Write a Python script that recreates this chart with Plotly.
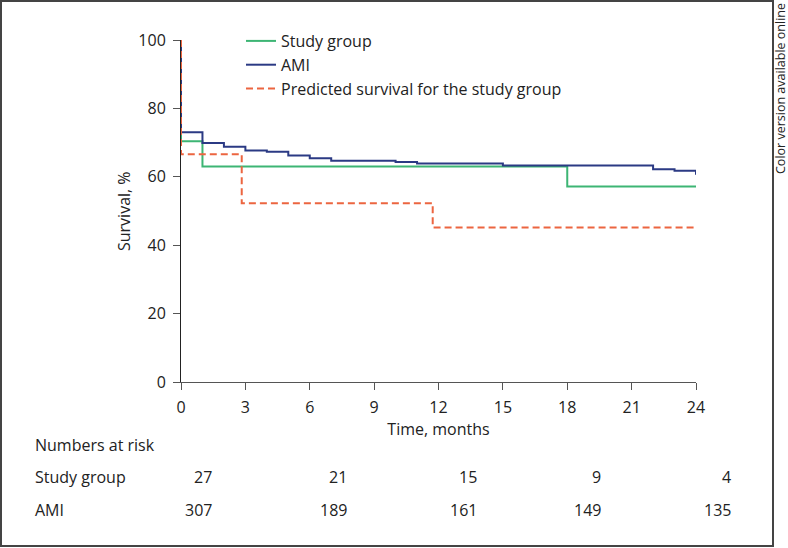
import plotly.graph_objects as go

# ---- data ----
study_t = [0, 0, 1, 18, 24]
study_s = [100, 70.4, 63.0, 57.2, 57.2]

ami_t = [0, 0, 1, 2, 3, 4, 5, 6, 7, 10, 11, 15, 22, 23, 24]
ami_s = [100, 73.0, 69.9, 68.8, 67.7, 67.3, 66.2, 65.4, 64.7, 64.3, 63.9, 63.3, 62.2, 61.8, 60.6]

pred_t = [0, 0, 2.83, 11.73, 24.2]
pred_s = [100, 66.6, 52.3, 45.2, 45.2]

x_ticks = [0, 3, 6, 9, 12, 15, 18, 21, 24]
y_ticks = [0, 20, 40, 60, 80, 100]

risk_groups = ["Study group", "AMI"]
risk_study = [27, 21, 15, 9, 4]
risk_ami = [307, 189, 161, 149, 135]

# ---- layout geometry ----
W, H = 788, 548
L, R, T, B = 181, 92, 40, 166
PW, PH = W - L - R, H - T - B
FONT = "Open Sans"
TXT = "#222222"
FS = 16


def px(xp):
    return (xp - L) / PW


def py(yp):
    return (H - B - yp) / PH


fig = go.Figure()
fig.add_trace(go.Scatter(x=study_t, y=study_s, mode="lines", line_shape="hv",
                         name="Study group", line=dict(color="#3DB574", width=2)))
fig.add_trace(go.Scatter(x=ami_t, y=ami_s, mode="lines", line_shape="hv",
                         name="AMI", line=dict(color="#2B3A84", width=2)))
fig.add_trace(go.Scatter(x=pred_t, y=pred_s, mode="lines", line_shape="hv",
                         name="Predicted survival for the study group",
                         line=dict(color="#EC6540", width=2, dash="7px,4px")))

ann = []
ann.append(dict(text="Survival, %", x=px(124), y=py(211), xref="paper", yref="paper",
                xanchor="center", yanchor="middle", textangle=-90, showarrow=False,
                font=dict(size=FS, color=TXT, family=FONT)))
ann.append(dict(text="Numbers at risk", x=px(33), y=py(445), xref="paper", yref="paper",
                xanchor="left", yanchor="middle", showarrow=False,
                font=dict(size=FS, color=TXT, family=FONT)))
row_y = [477, 510]
col_x = [214, 349, 479, 603, 733]
for g, vals, yy in zip(risk_groups, [risk_study, risk_ami], row_y):
    ann.append(dict(text=g, x=px(33), y=py(yy), xref="paper", yref="paper",
                    xanchor="left", yanchor="middle", showarrow=False,
                    font=dict(size=FS, color=TXT, family=FONT)))
    for v, xx in zip(vals, col_x):
        ann.append(dict(text=str(v), x=px(xx), y=py(yy), xref="paper", yref="paper",
                        xanchor="right", yanchor="middle", showarrow=False,
                        font=dict(size=FS, color=TXT, family=FONT)))
ann.append(dict(text="Color version available online", x=px(781), y=py(89),
                xref="paper", yref="paper", xanchor="center", yanchor="middle",
                textangle=-90, showarrow=False,
                font=dict(size=12.5, color=TXT, family=FONT)))

fig.update_layout(
    width=W, height=H,
    margin=dict(l=L, r=R, t=T, b=B, autoexpand=False),
    paper_bgcolor="white", plot_bgcolor="white",
    font=dict(family=FONT, size=FS, color=TXT),
    showlegend=True,
    legend=dict(x=px(241), y=py(24), xanchor="left", yanchor="top",
                bgcolor="rgba(0,0,0,0)", font=dict(size=FS, color=TXT),
                tracegroupgap=0, itemwidth=30),
    xaxis=dict(range=[0, 24], tickvals=x_ticks, showgrid=False, zeroline=False,
               showline=True, linecolor="#555555", linewidth=1,
               ticks="outside", ticklen=7, tickcolor="#555555",
               ticklabelstandoff=4,
               title=dict(text="Time, months", standoff=4, font=dict(size=FS))),
    yaxis=dict(range=[0, 100], tickvals=y_ticks, showgrid=False, zeroline=False,
               showline=True, linecolor="#222222", linewidth=1,
               ticks="outside", ticklen=7, tickcolor="#555555",
               ticklabelstandoff=4),
    annotations=ann,
    shapes=[dict(type="rect", xref="paper", yref="paper",
                 x0=px(1), x1=px(773), y0=py(546), y1=py(1),
                 line=dict(color="#444444", width=2))],
)

fig.write_html("out.html", config={"displayModeBar": False},
               post_script="document.body.style.margin='0px';")
